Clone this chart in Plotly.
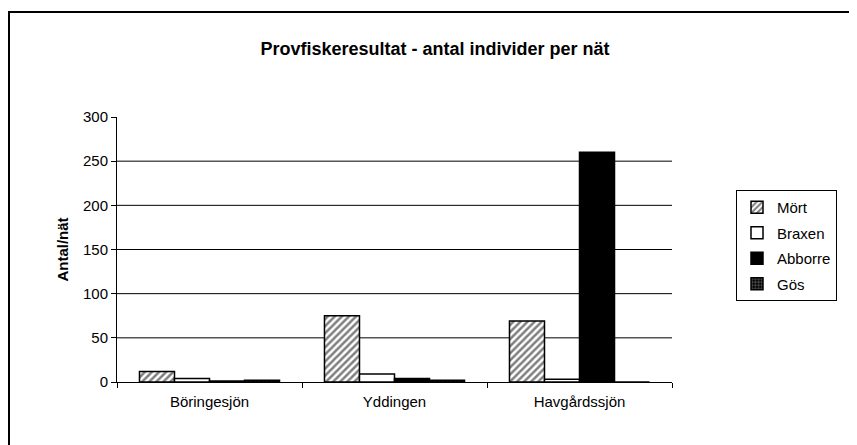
import plotly.graph_objects as go

categories = ["Böringesjön", "Yddingen", "Havgårdssjön"]
mort = [12, 75, 69]
braxen = [4, 9, 3]
abborre = [1, 4, 260]
gos = [2, 2, 0]
y_ticks = [0, 50, 100, 150, 200, 250, 300]
grid_vals = [50, 100, 150, 200, 250]

OFF = 8  # page body margin
W, H = 857, 445
pw, ph = 555, 265
L, T = 117 - OFF, 117 - OFF
R, B = W - L - pw, H - T - ph

FONT = "Liberation Sans, Arial, sans-serif"
line = dict(color="black", width=1.5)

fig = go.Figure()
fig.add_trace(go.Bar(name="Mört", x=categories, y=mort, legendgroup="a",
                     marker=dict(color="white", line=line,
                                 pattern=dict(shape="/", fgcolor="black", bgcolor="white",
                                              size=5, solidity=0.5))))
fig.add_trace(go.Bar(name="Braxen", x=categories, y=braxen, legendgroup="b",
                     marker=dict(color="white", line=line)))
fig.add_trace(go.Bar(name="Abborre", x=categories, y=abborre, legendgroup="c",
                     marker=dict(color="black", line=line)))
fig.add_trace(go.Bar(name="Gös", x=categories, y=gos, legendgroup="d",
                     marker=dict(color="black", line=line,
                                 pattern=dict(shape="+", fgcolor="white", bgcolor="black",
                                              size=4, solidity=0.3))))

shapes = []
for g in grid_vals:
    shapes.append(dict(type="line", xref="paper", yref="y", x0=0, x1=1, y0=g, y1=g,
                       line=dict(color="black", width=1), layer="below"))
# outer chart border (page coords -> paper)
bx0, by0 = 9, 12
shapes.append(dict(type="rect", xref="paper", yref="paper",
                   x0=(bx0 - OFF - L) / pw, x1=(W + 20 - L) / pw,
                   y0=-(H + 20 - T - ph) / ph, y1=1 + (T - (by0 - OFF)) / ph,
                   line=dict(color="black", width=2), fillcolor="rgba(0,0,0,0)"))

fig.update_layout(
    width=W, height=H,
    margin=dict(l=L, r=R, t=T, b=B),
    paper_bgcolor="white", plot_bgcolor="white",
    font=dict(family=FONT, size=15, color="black"),
    barmode="group", bargap=0.243, bargroupgap=0,
    title=dict(text="<b>Provfiskeresultat - antal individer per nät</b>",
               x=(435 - OFF) / W, y=1 - (49 - OFF) / H, xref="container", yref="container",
               xanchor="center", yanchor="middle",
               font=dict(family=FONT, size=18, color="black")),
    legend=dict(x=(736 - OFF - L) / pw, xanchor="left",
                y=(T + ph - (245.5 - OFF)) / ph, yanchor="middle",
                bordercolor="black", borderwidth=1, bgcolor="white",
                traceorder="grouped", tracegroupgap=3,
                font=dict(family=FONT, size=15, color="black")),
    shapes=shapes,
    xaxis=dict(showline=True, linecolor="black", linewidth=1, ticks="outside",
               tickson="boundaries", ticklen=5, tickcolor="black", showgrid=False,
               ticklabelstandoff=6),
    yaxis=dict(range=[0, 300], tickvals=y_ticks, showline=True, linecolor="black",
               linewidth=1, ticks="outside", ticklen=5, tickcolor="black",
               showgrid=False, zeroline=False,
               title=dict(text="<b>Antal/nät</b>", standoff=10,
                          font=dict(family=FONT, size=15, color="black"))),
)

fig.write_html("out.html")
